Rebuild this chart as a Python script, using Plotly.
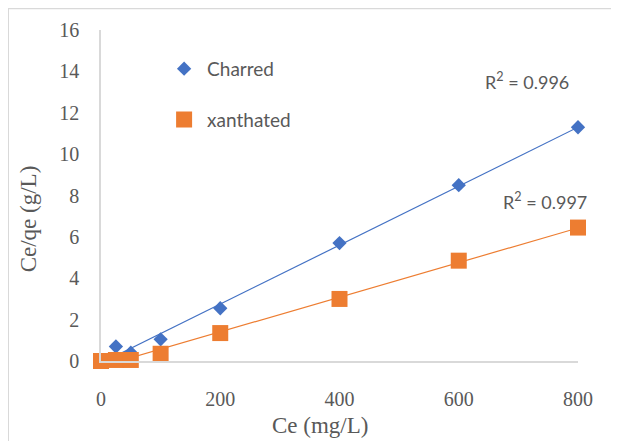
import numpy as np
import plotly.graph_objects as go

# ---- data ----
ce_charred = [0, 25, 50, 100, 200, 400, 600, 800]
ceqe_charred = [0.0, 0.7, 0.4, 1.05, 2.55, 5.7, 8.5, 11.3]
ce_xanth = [0, 25, 50, 100, 200, 400, 600, 800]
ceqe_xanth = [0.0, 0.05, 0.05, 0.35, 1.35, 3.0, 4.85, 6.45]
series_names = ["Charred", "xanthated"]
r2_labels = ["R<sup>2</sup> = 0.996", "R<sup>2</sup> = 0.997"]
x_ticks = [0, 200, 400, 600, 800]
y_ticks = [0, 2, 4, 6, 8, 10, 12, 14, 16]

BLUE = "#4472C4"
ORANGE = "#ED7D31"
GRAY_TXT = "#595959"
AXIS_GRAY = "#D9D9D9"
SERIF = "Liberation Serif, DejaVu Serif, serif"
SANS = "Lato, Liberation Sans, sans-serif"

fig = go.Figure()

# trendlines (linear least squares over the data range)
for xs, ys, col in [(ce_charred, ceqe_charred, BLUE), (ce_xanth, ceqe_xanth, ORANGE)]:
    m, b = np.polyfit(xs, ys, 1)
    xl = np.array([min(xs), max(xs)], dtype=float)
    fig.add_trace(go.Scatter(x=xl, y=m * xl + b, mode="lines",
                             line=dict(color=col, width=1.2),
                             showlegend=False, hoverinfo="skip", cliponaxis=False))

fig.add_trace(go.Scatter(x=ce_charred, y=ceqe_charred, mode="markers", name=series_names[0],
                         legendgroup="a",
                         marker=dict(symbol="diamond", size=11, color=BLUE),
                         cliponaxis=False))
fig.add_trace(go.Scatter(x=ce_xanth, y=ceqe_xanth, mode="markers", name=series_names[1],
                         legendgroup="b",
                         marker=dict(symbol="square", size=16, color=ORANGE),
                         cliponaxis=False))

fig.add_annotation(x=715, y=13.55, xref="x", yref="y", text=r2_labels[0], showarrow=False,
                   font=dict(family=SANS, size=18, color=GRAY_TXT))
fig.add_annotation(x=745, y=7.75, xref="x", yref="y", text=r2_labels[1], showarrow=False,
                   font=dict(family=SANS, size=18, color=GRAY_TXT))

# y-axis title
fig.add_annotation(x=-0.182, y=0.43, xref="paper", yref="paper", text="Ce/qe (g/L)",
                   textangle=-90, showarrow=False,
                   font=dict(family=SERIF, size=23, color=GRAY_TXT))
# x-axis title
fig.add_annotation(x=0.46, y=-0.24, xref="paper", yref="paper", text="Ce (mg/L)",
                   showarrow=False, font=dict(family=SERIF, size=23, color=GRAY_TXT))

# chart border
fig.add_shape(type="rect", xref="paper", yref="paper", x0=-0.195, x1=1.2, y0=-0.4, y1=1.066,
              line=dict(color=AXIS_GRAY, width=2), layer="below")

fig.update_layout(
    width=619, height=441,
    margin=dict(l=93, r=49, t=22, b=88, autoexpand=False),
    paper_bgcolor="white", plot_bgcolor="white",
    showlegend=True,
    legend=dict(x=0.126, y=0.94, xanchor="left", yanchor="top",
                font=dict(family=SANS, size=19, color=GRAY_TXT),
                itemwidth=36,
                traceorder="grouped", tracegroupgap=23, bgcolor="rgba(0,0,0,0)"),
    xaxis=dict(range=[0, 800], tickvals=x_ticks, showgrid=False, zeroline=False,
               showline=True, linecolor=AXIS_GRAY, linewidth=1.5, automargin=False,
               ticks="outside", ticklen=19, tickcolor="rgba(0,0,0,0)",
               tickfont=dict(family=SERIF, size=20, color=GRAY_TXT)),
    yaxis=dict(range=[0, 16], tickvals=y_ticks, showgrid=False, zeroline=False,
               showline=True, linecolor=AXIS_GRAY, linewidth=1.5, automargin=False,
               ticks="outside", ticklen=16, tickcolor="rgba(0,0,0,0)",
               tickfont=dict(family=SERIF, size=20, color=GRAY_TXT)),
)

fig.write_html("out.html")
